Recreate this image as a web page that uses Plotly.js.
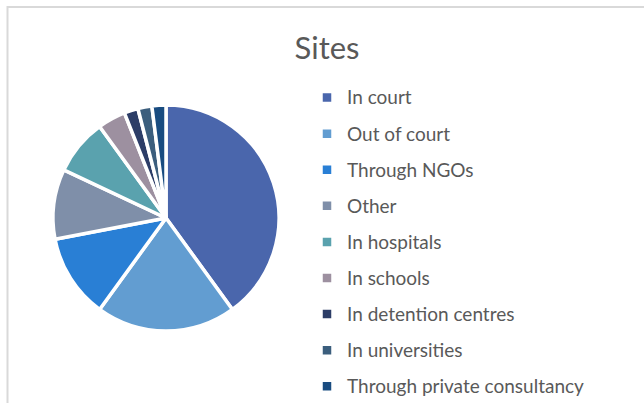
<!DOCTYPE html>
<html>
<head>
<meta charset="utf-8">
<script src="https://cdn.plot.ly/plotly-3.0.1.min.js"></script>
<style>
html,body{margin:0;padding:0;background:#fff;}
#chart{width:644px;height:403px;}
</style>
</head>
<body>
<div id="chart"></div>
<script>
const categories = ["In court", "Out of court", "Through NGOs", "Other", "In hospitals", "In schools", "In detention centres", "In universities", "Through private consultancy"];
const values = [20, 10, 6, 5, 4, 2, 1, 1, 1];
const colors = ["#4A66AC", "#629DD1", "#297FD5", "#7F8FA9", "#5AA2AE", "#9D90A0", "#2C3D67", "#3B5E7D", "#194C80"];

const W = 644, H = 403;
const cx = 166, cy = 218, r = 113;

const trace = {
  type: "pie",
  // legend labels rendered at 19px inside a taller legend line
  labels: categories.map(c => '<span style="font-size:19px;baseline-shift:3px">' + c + '</span>'),
  values: values,
  hovertext: categories,
  hoverinfo: "text+percent",
  sort: false,
  direction: "clockwise",
  rotation: 0,
  textinfo: "none",
  marker: {colors: colors, line: {color: "#ffffff", width: 3.5}},
  domain: {x: [(cx - r) / W, (cx + r) / W], y: [(H - cy - r) / H, (H - cy + r) / H]}
};

const layout = {
  width: W, height: H,
  margin: {l: 0, r: 0, t: 0, b: 0, autoexpand: false},
  paper_bgcolor: "#ffffff",
  font: {family: "Lato, 'Open Sans', sans-serif", color: "#595959"},
  title: {
    text: "Sites",
    font: {family: "Lato, sans-serif", size: 31, color: "#595959"},
    x: 327 / W, xanchor: "center", xref: "container",
    y: 1 - 48.5 / H, yanchor: "middle", yref: "container"
  },
  showlegend: true,
  legend: {
    font: {family: "Lato, sans-serif", size: 25.45, color: "#595959"},
    x: 307 / W, xanchor: "left",
    y: 1 - 74.5 / H, yanchor: "top",
    bgcolor: "rgba(0,0,0,0)"
  },
  shapes: [{
    type: "rect", xref: "paper", yref: "paper",
    x0: 7.5 / W, x1: 1.2, y0: -0.2, y1: 1 - 7 / H,
    line: {color: "#d9d9d9", width: 2}, fillcolor: "rgba(0,0,0,0)"
  }]
};

Plotly.newPlot("chart", [trace], layout, {displayModeBar: false, staticPlot: true});
</script>
</body>
</html>
